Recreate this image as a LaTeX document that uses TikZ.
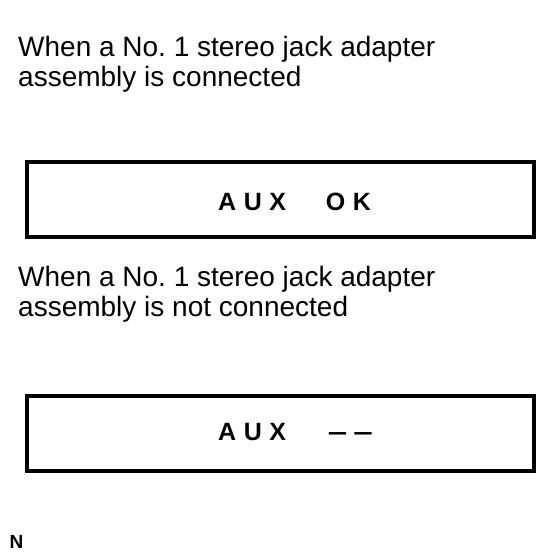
\documentclass[tikz,border=0pt]{standalone}
\usepackage{fontspec}
\setmainfont{Liberation Sans}
\usepackage{graphicx}
\usetikzlibrary{positioning}

\begin{document}
\begin{tikzpicture}[x=1pt, y=-1pt,
  heading/.style={anchor=north west, inner sep=0pt, align=left,
                  font=\fontsize{28}{30.5}\selectfont},
  display/.style={rectangle, draw=black, line width=4pt,
                  minimum width=507pt, minimum height=75pt, inner sep=0pt},
  readout/.style={anchor=base west, inner sep=0pt,
                  font=\fontsize{25}{28}\selectfont\bfseries\addfontfeature{LetterSpace=30}}
]
  \useasboundingbox[fill=white] (0,0) rectangle (558,558);

  % connected
  \node[heading] (head_on) at (18,36)
    {When a No.\ 1 stereo jack adapter\\assembly is connected};
  \node[display] (disp_on) at (280.5,199.5) {};
  \node[readout] (text_on) at (218,210) {AUX\hspace{40pt}OK};

  % not connected
  \node[heading] (head_off) at (18,266)
    {When a No.\ 1 stereo jack adapter\\assembly is not connected};
  \node[display] (disp_off) at (280.5,433) {};
  \node[readout] (text_off) at (218,440)
    {AUX\hspace{42pt}\scalebox{1.4}[1]{--}\hspace{6pt}\scalebox{1.4}[1]{--}};

  \node[anchor=base west, inner sep=0pt, font=\fontsize{19}{22}\selectfont\bfseries]
    (mark) at (9.5,548.5) {N};
\end{tikzpicture}
\end{document}
